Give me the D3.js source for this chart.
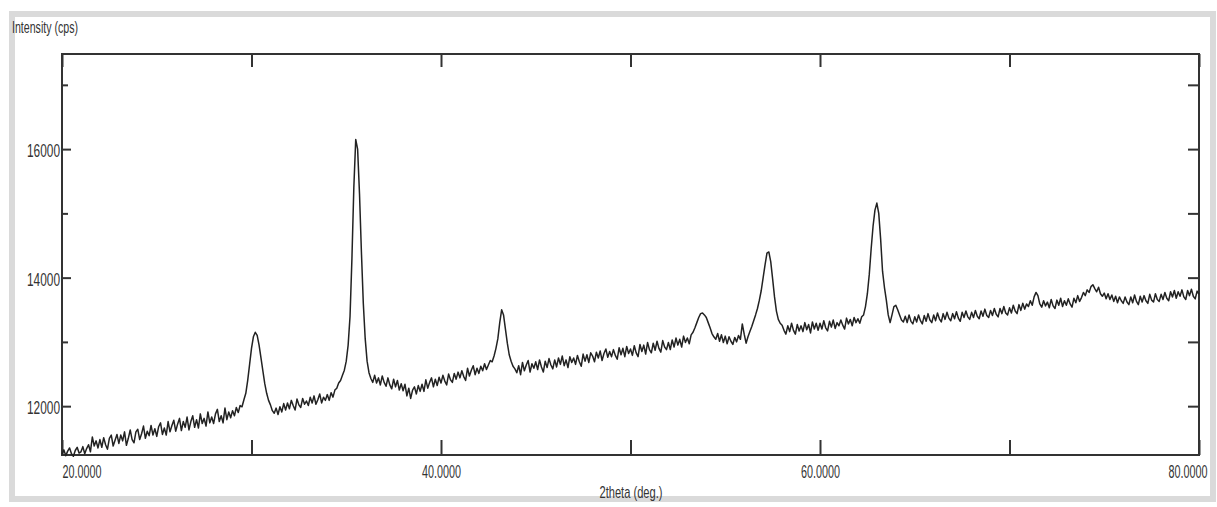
<!DOCTYPE html>
<meta charset="utf-8">
<script src="https://d3js.org/d3.v7.min.js"></script>
<style>
  body { margin: 0; background: #fff; }
  text { font-family: "Liberation Sans", Arial, sans-serif; fill: #333; }
  .tick line { stroke: #333; stroke-width: 2px; }
</style>
<div id="my_dataviz"></div>
<script>
// scan settings (2theta grid, deg)
var scanStart = 20.0,
    scanStep = 0.1;

// intensity (cps), one row per degree, 20.0 ... 80.0
var counts = [
  11250, 11320, 11230, 11300, 11350, 11260, 11220, 11310, 11360, 11270,
  11290, 11370, 11260, 11340, 11400, 11290, 11520, 11380, 11460, 11350,
  11480, 11360, 11510, 11400, 11330, 11500, 11550, 11380, 11470, 11560,
  11420, 11550, 11460, 11600, 11390, 11500, 11630, 11480, 11430, 11600,
  11640, 11480, 11570, 11690, 11500, 11610, 11540, 11700, 11550, 11650,
  11530, 11680, 11740, 11560, 11660, 11550, 11760, 11600, 11700, 11780,
  11610, 11720, 11810, 11620, 11760, 11670, 11830, 11630, 11760, 11850,
  11670, 11790, 11660, 11880, 11730, 11810, 11690, 11910, 11740, 11830,
  11730, 11880, 11950, 11760, 11850, 11740, 11970, 11790, 11910, 11820,
  11930, 11850, 11980, 11900, 12010, 11990, 12100, 12200, 12400, 12650,
  12900, 13080, 13150, 13100, 12950, 12750, 12550, 12350, 12200, 12090,
  12020, 11930, 11890, 11970, 11870, 11990, 11910, 12040, 11940, 12050,
  11960, 12090, 12010, 11940, 12110, 12020, 11980, 12120, 12030, 12080,
  12010, 12140, 12050, 12160, 12030, 12100, 12190, 12050, 12140, 12090,
  12180, 12090, 12210, 12140, 12250, 12280, 12360, 12400, 12480, 12560,
  12700, 12950, 13400, 14300, 15400, 16150, 16000, 15300, 14400, 13600,
  13050, 12700, 12520, 12430, 12370, 12480, 12360, 12440, 12330, 12470,
  12370, 12310, 12440, 12330, 12270, 12420, 12300, 12400, 12250, 12350,
  12240, 12340, 12160, 12280, 12120, 12250, 12300, 12190, 12320, 12230,
  12340, 12230, 12410, 12280, 12370, 12440, 12300, 12420, 12320, 12450,
  12360, 12480, 12390, 12330, 12500, 12410, 12370, 12510, 12420, 12530,
  12440, 12550, 12460, 12400, 12590, 12470, 12560, 12630, 12490, 12590,
  12510, 12620, 12550, 12660, 12570, 12640, 12710, 12690, 12780, 12900,
  13050, 13300, 13500, 13420, 13200, 12980, 12800, 12700, 12620, 12580,
  12520, 12630, 12490, 12680, 12550, 12640, 12710, 12530, 12660, 12590,
  12690, 12570, 12720, 12610, 12530, 12700, 12600, 12740, 12640, 12580,
  12720, 12610, 12750, 12650, 12780, 12630, 12720, 12600, 12770, 12680,
  12750, 12650, 12790, 12690, 12620, 12810, 12700, 12800, 12680, 12830,
  12780, 12690, 12840, 12750, 12860, 12710, 12820, 12890, 12760, 12850,
  12770, 12880, 12790, 12730, 12910, 12800, 12900, 12770, 12930, 12820,
  12890, 12790, 12940, 12830, 12770, 12960, 12850, 12950, 12810, 12990,
  12880, 12830, 12980, 12870, 13010, 12900, 12840, 13020, 12920, 12880,
  12990, 12880, 13030, 12920, 13060, 12950, 13040, 12920, 13090, 12990,
  13060, 12970, 13110, 13150, 13220, 13300, 13380, 13440, 13450, 13420,
  13380, 13300, 13220, 13130, 13080, 13040, 13130, 13010, 13110, 12990,
  13090, 12970, 13080, 13010, 12960, 13070, 13000, 13100, 13040, 13280,
  13120, 12980, 13080, 13160, 13240, 13330, 13420, 13520, 13650, 13800,
  14000, 14200, 14380, 14400, 14250, 13980, 13700, 13480, 13350, 13290,
  13260, 13180, 13120, 13250, 13160, 13290, 13180, 13120, 13270, 13170,
  13250, 13160, 13300, 13190, 13270, 13140, 13310, 13200, 13290, 13180,
  13290, 13200, 13330, 13220, 13170, 13320, 13230, 13340, 13210, 13300,
  13250, 13340, 13260, 13200, 13370, 13280, 13350, 13250, 13380, 13300,
  13360, 13290, 13390, 13420, 13550, 13750, 14050, 14450, 14800, 15050,
  15160, 15000, 14600, 14100, 13850, 13650, 13420, 13300, 13420, 13550,
  13570, 13500, 13420, 13340, 13310, 13400, 13300, 13420, 13320, 13280,
  13390, 13310, 13420, 13330, 13280, 13410, 13320, 13440, 13340, 13300,
  13420, 13330, 13450, 13360, 13310, 13440, 13350, 13460, 13370, 13330,
  13440, 13360, 13470, 13370, 13320, 13460, 13380, 13480, 13390, 13350,
  13460, 13380, 13490, 13400, 13360, 13480, 13400, 13510, 13410, 13380,
  13490, 13410, 13520, 13430, 13390, 13520, 13440, 13550, 13450, 13420,
  13530, 13450, 13570, 13480, 13440, 13580, 13490, 13600, 13510, 13590,
  13550, 13640, 13570, 13700, 13770, 13720, 13590, 13540, 13640, 13560,
  13620, 13530, 13660, 13560, 13520, 13650, 13570, 13680, 13550, 13640,
  13570, 13670, 13590, 13540, 13680, 13610, 13720, 13630, 13690, 13770,
  13720, 13810, 13770, 13860, 13890, 13830, 13780, 13850, 13750, 13710,
  13760, 13670, 13750, 13660, 13730, 13630, 13710, 13610, 13700, 13640,
  13600, 13700, 13620, 13580, 13700, 13610, 13730, 13630, 13580, 13710,
  13620, 13720, 13640, 13600, 13740, 13650, 13620, 13750, 13660, 13630,
  13740, 13660, 13770, 13680, 13640, 13780, 13700, 13800, 13680, 13780,
  13710, 13810, 13700, 13660, 13800, 13720, 13820, 13710, 13670, 13790,
  13740
];

// axis ticks
var xTicks = [20, 30, 40, 50, 60, 70, 80];
var xLabelled = [20, 40, 60, 80];
var yTicks = [12000, 13000, 14000, 15000, 16000, 17000];
var yLabelled = [12000, 14000, 16000];

var margin = {top: 54, right: 18, bottom: 52, left: 62},
    width = 1217 - margin.left - margin.right,
    height = 507 - margin.top - margin.bottom;

var root = d3.select("#my_dataviz")
  .append("svg")
  .attr("width", 1217)
  .attr("height", 507);

// scanned page border
root.append("rect")
  .attr("x", 12).attr("y", 14)
  .attr("width", 1201).attr("height", 485)
  .attr("fill", "none")
  .attr("stroke", "#dadada")
  .attr("stroke-width", 6);

var svg = root.append("g")
  .attr("transform", "translate(" + margin.left + "," + margin.top + ")");

var x = d3.scaleLinear().domain([20, 80]).range([0, width]);
var y = d3.scaleLinear().domain([11240, 17480]).range([height, 0]);

// bottom axis, ticks pointing in
var xb = svg.append("g")
  .attr("transform", "translate(0," + height + ")")
  .call(d3.axisBottom(x).tickValues(xTicks).tickSize(-15).tickPadding(10)
    .tickFormat(d => xLabelled.includes(d) ? d.toFixed(4) : ""));
xb.select(".domain").remove();
xb.selectAll("text")
  .filter(d => xLabelled.includes(d))
  .style("font-size", "18px")
  .attr("textLength", 39)
  .attr("lengthAdjust", "spacingAndGlyphs");
xb.selectAll(".tick").filter(d => d === 20).select("text").attr("text-anchor", "start");
// last label sits against the page edge
xb.selectAll(".tick").filter(d => d === 80).select("text").attr("text-anchor", "end").attr("x", 8);

// top axis
var xt = svg.append("g")
  .call(d3.axisTop(x).tickValues(xTicks).tickSize(-13).tickFormat(""));
xt.select(".domain").remove();

// left axis
var yl = svg.append("g")
  .call(d3.axisLeft(y).tickValues(yTicks).tickSize(-9).tickPadding(2)
    .tickFormat(d => yLabelled.includes(d) ? d : ""));
yl.select(".domain").remove();
yl.selectAll(".tick line").attr("x2", d => yLabelled.includes(d) ? 9 : 6);
yl.selectAll("text")
  .filter(d => yLabelled.includes(d))
  .style("font-size", "18px")
  .attr("dy", "0.42em")
  .attr("textLength", 33)
  .attr("lengthAdjust", "spacingAndGlyphs");

// right axis
var yr = svg.append("g")
  .attr("transform", "translate(" + width + ",0)")
  .call(d3.axisRight(y).tickValues(yTicks).tickSize(-11).tickFormat(""));
yr.select(".domain").remove();

// frame
svg.append("rect")
  .attr("width", width).attr("height", height)
  .attr("fill", "none")
  .attr("stroke", "#333")
  .attr("stroke-width", 2);

// pattern
var line = d3.line()
  .x((d, i) => x(scanStart + i * scanStep))
  .y(d => y(d));

svg.append("path")
  .datum(counts)
  .attr("fill", "none")
  .attr("stroke", "#222")
  .attr("stroke-width", 1.5)
  .attr("stroke-linejoin", "round")
  .attr("d", line);

// axis titles
root.append("text")
  .attr("x", 12).attr("y", 33)
  .style("font-size", "16px")
  .attr("textLength", 66)
  .attr("lengthAdjust", "spacingAndGlyphs")
  .text("Intensity (cps)");

root.append("text")
  .attr("x", margin.left + x(50) - 31).attr("y", 498)
  .style("font-size", "17px")
  .attr("textLength", 63)
  .attr("lengthAdjust", "spacingAndGlyphs")
  .text("2theta (deg.)");
</script>
